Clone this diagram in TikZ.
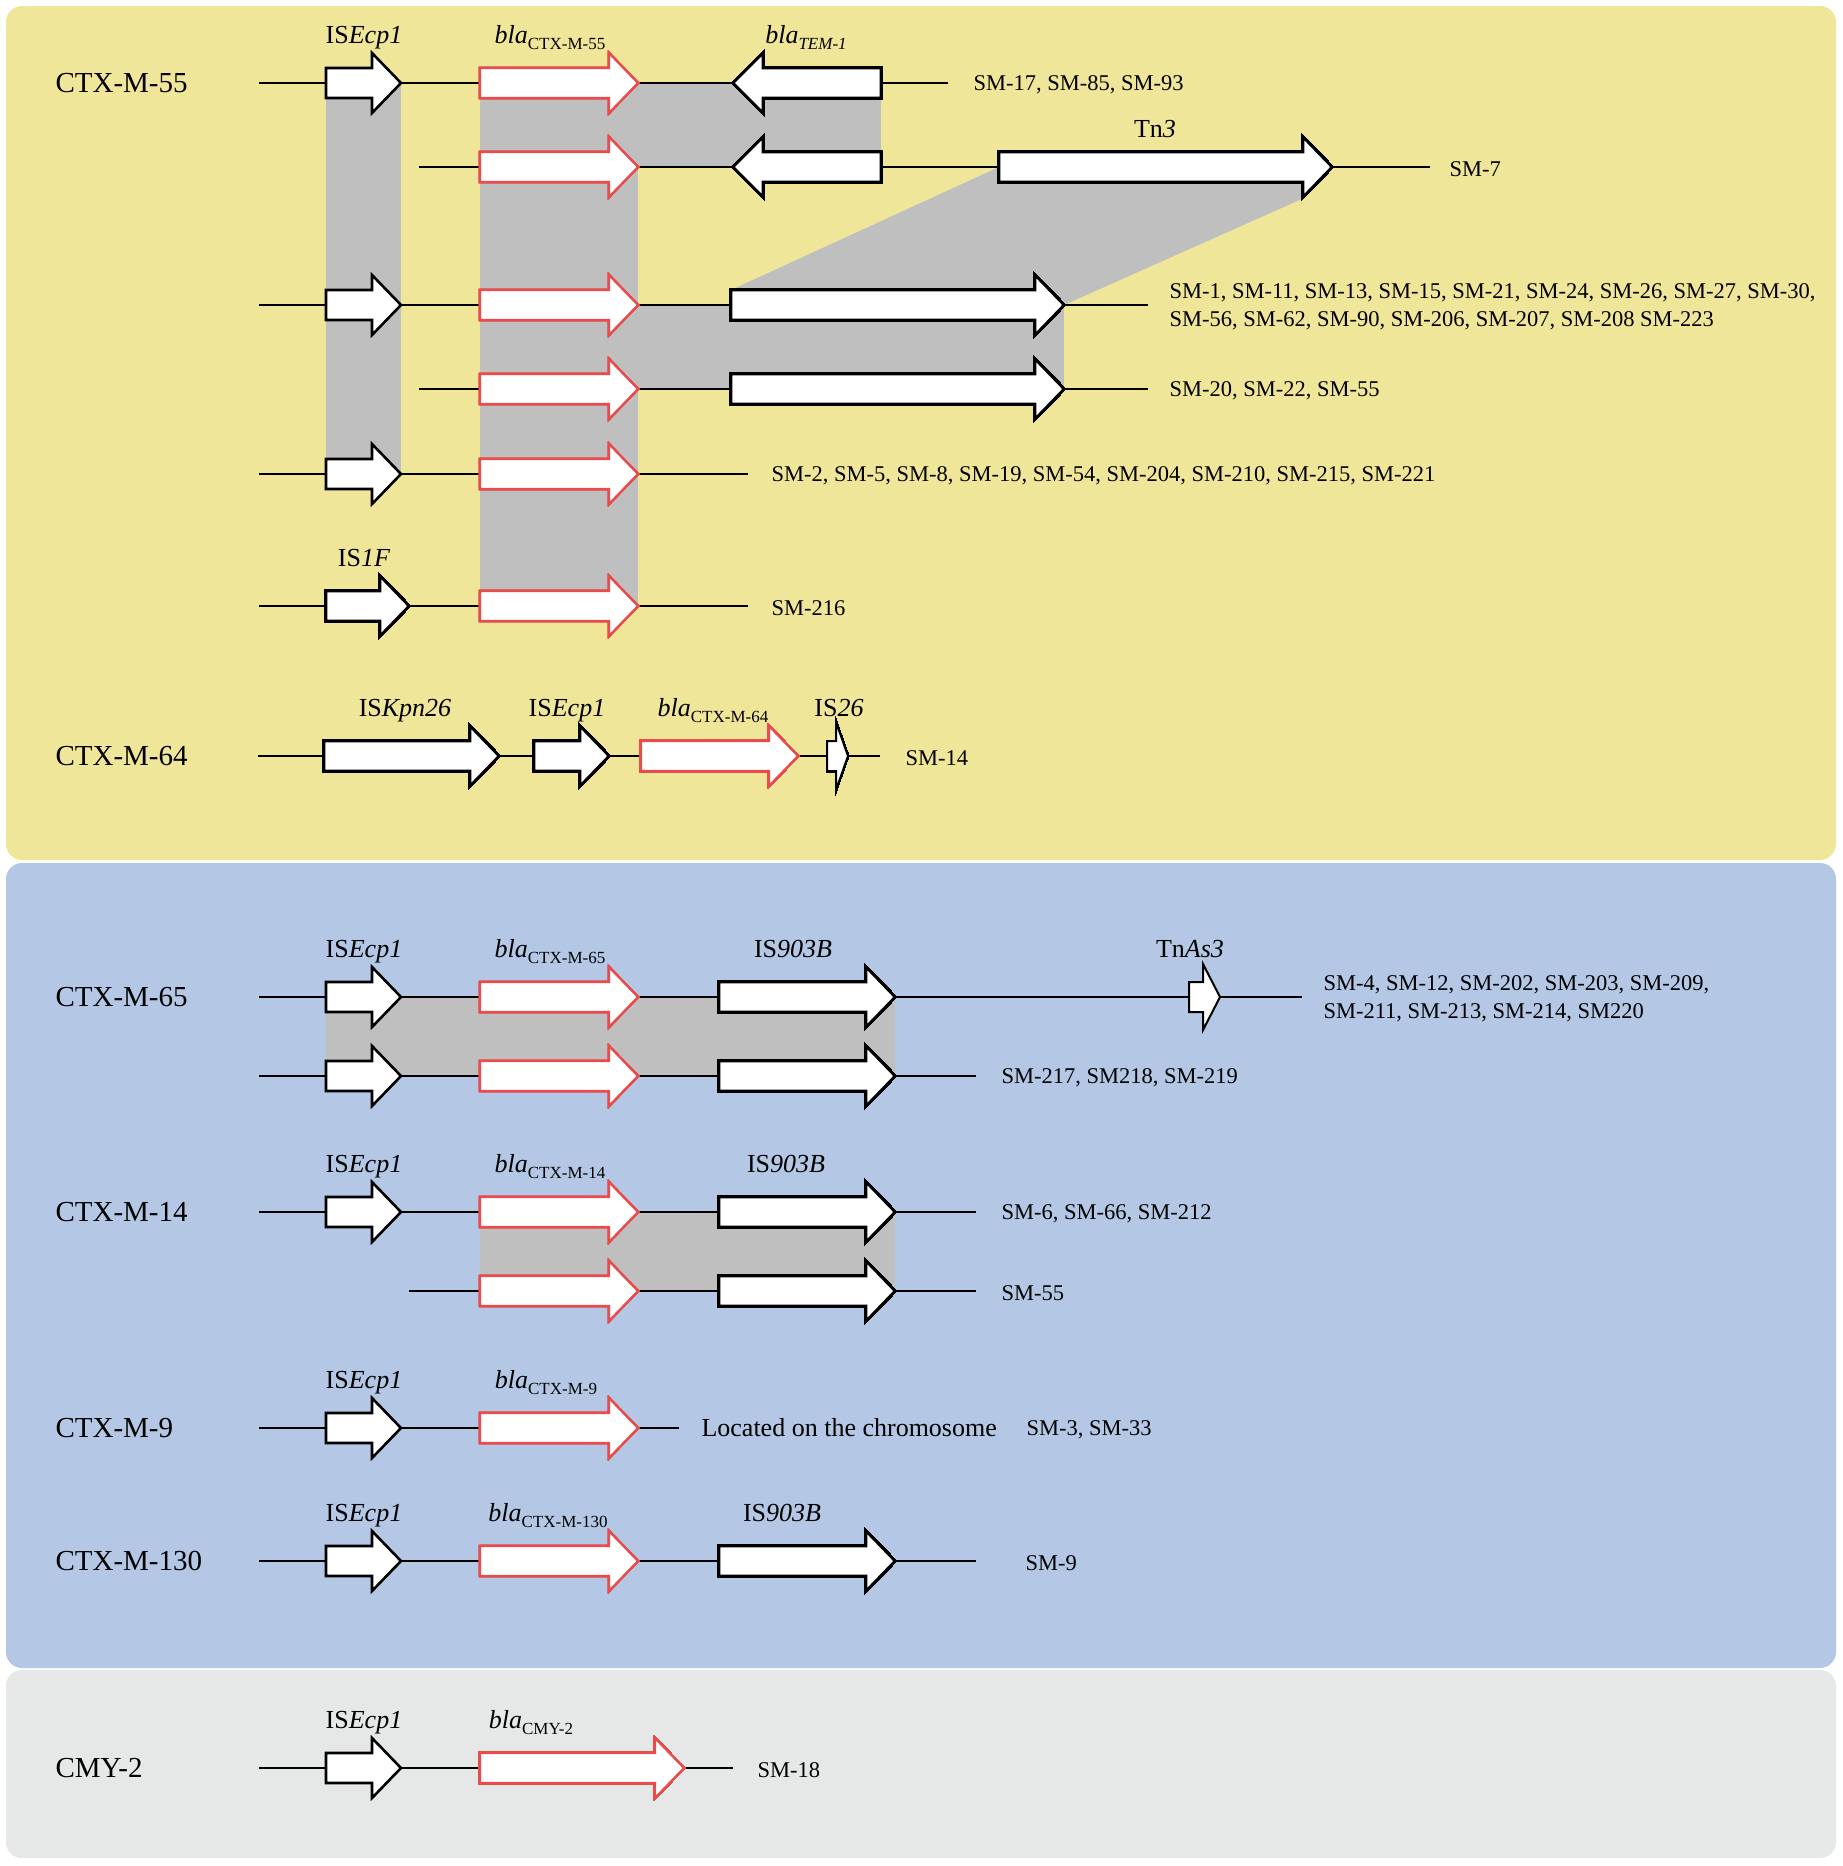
\documentclass[tikz,border=0pt]{standalone}
\usepackage{fontspec}
\setmainfont{Liberation Serif}
\definecolor{panelY}{HTML}{F0E69A}
\definecolor{panelB}{HTML}{B4C8E6}
\definecolor{panelG}{HTML}{E6E7E7}
\definecolor{shade}{HTML}{BFBFBF}
\definecolor{blared}{HTML}{E84C4C}
% forward gene: [style]{start}{tip}{row}
\newcommand{\fwdgene}[4][gene]{\draw[#1] (#2,#4-15)--(#3-29,#4-15)--(#3-29,#4-30)--(#3,#4)--(#3-29,#4+30)--(#3-29,#4+15)--(#2,#4+15)--cycle;}
% reverse gene: {tip}{end}{row}
\newcommand{\revgene}[3]{\draw[gene] (#2,#3-15)--(#1+30,#3-15)--(#1+30,#3-30)--(#1,#3)--(#1+30,#3+30)--(#1+30,#3+15)--(#2,#3+15)--cycle;}
\newcommand{\blaname}[1]{\textit{bla}\raisebox{-6pt}{\fontsize{17}{17}\selectfont #1}}
\begin{document}
\begin{tikzpicture}[x=1pt,y=-1pt,line join=miter,
	gene/.style={draw=black,fill=white,line width=2.6pt},
	blagene/.style={draw=blared,fill=white,line width=2.2pt},
	bb/.style={line width=2pt},
	band/.style={fill=shade},
	lab/.style={font=\fontsize{26}{30}\selectfont,anchor=base},
	iso/.style={font=\fontsize{29}{34}\selectfont,anchor=west},
	sm/.style={font=\fontsize{22.5}{28}\selectfont,anchor=west,align=left,yshift=-2pt}]
	\useasboundingbox (0,0) rectangle (1843,1866);
	% panels
	\fill[panelY,rounded corners=16pt] (6,6) rectangle (1836,860);
	\fill[panelB,rounded corners=16pt] (6,863) rectangle (1836,1668);
	\fill[panelG,rounded corners=16pt] (6,1670) rectangle (1836,1858);
	% shaded homology
	\fill[band] (326,83) rectangle (401,474);
	\fill[band] (480,83) rectangle (638,606);
	\fill[band] (638,83) rectangle (881,167);
	\fill[band] (999,167)--(1332,167)--(1304,198)--(1064,305)--(731,305)--(731,290)--cycle;
	\fill[band] (638,305) rectangle (1064,389);
	\fill[band] (326,997) rectangle (895,1076);
	\fill[band] (480,1212) rectangle (895,1291);
	% backbones
	\foreach \a/\b/\y in {259/948/83,419/1430/167,259/1148/305,419/1148/389,259/748/474,259/748/606,
		258/880/756,259/1302/997,259/976/1076,259/976/1212,409/976/1291,259/679/1428,259/976/1561,259/733/1768}
		\draw[bb] (\a,\y)--(\b,\y);
	% genes
	\foreach \y in {83,305,474,997,1076,1212,1428,1561,1768} \fwdgene{326}{401}{\y}
	\foreach \y in {83,167,305,389,474,606,997,1076,1212,1291,1428,1561} \fwdgene[blagene]{480}{638}{\y}
	\foreach \y in {997,1076,1212,1291,1561} \fwdgene{719}{895}{\y}
	\revgene{733}{881}{83}
	\revgene{733}{881}{167}
	\fwdgene{999}{1332}{167}
	\fwdgene{731}{1064}{305}
	\fwdgene{731}{1064}{389}
	\fwdgene{326}{409}{606}
	\fwdgene{324}{499}{756}
	\fwdgene{534}{609}{756}
	\fwdgene[blagene]{641}{798}{756}
	\fwdgene[blagene]{480}{684}{1768}
	\draw[gene,line width=2pt] (827,741)--(836,741)--(836,722)--(848,756)--(836,790)--(836,771)--(827,771)--cycle;
	\draw[gene,line width=2pt] (1189,982)--(1203,982)--(1203,964)--(1220,997)--(1203,1030)--(1203,1012)--(1189,1012)--cycle;
	% gene names
	\node[lab] (ecpA) at (364,43) {IS\textit{Ecp1}};
	\node[lab] (blaA) at (550,43) {\blaname{CTX-M-55}};
	\node[lab] (tem) at (806,43) {\blaname{\itshape TEM-1}};
	\node[lab] (tn3) at (1155,137) {Tn\textit{3}};
	\node[lab] (is1f) at (364,566) {IS\textit{1F}};
	\node[lab] (kpn) at (405,716) {IS\textit{Kpn26}};
	\node[lab] (ecpB) at (567,716) {IS\textit{Ecp1}};
	\node[lab] (blaB) at (713,716) {\blaname{CTX-M-64}};
	\node[lab] (is26) at (839,716) {IS\textit{26}};
	\node[lab] (ecpC) at (364,957) {IS\textit{Ecp1}};
	\node[lab] (blaC) at (550,957) {\blaname{CTX-M-65}};
	\node[lab] (isC) at (793,957) {IS\textit{903B}};
	\node[lab] (tnas) at (1190,957) {Tn\textit{As3}};
	\node[lab] (ecpD) at (364,1172) {IS\textit{Ecp1}};
	\node[lab] (blaD) at (550,1172) {\blaname{CTX-M-14}};
	\node[lab] (isD) at (786,1172) {IS\textit{903B}};
	\node[lab] (ecpE) at (364,1388) {IS\textit{Ecp1}};
	\node[lab] (blaE) at (546,1388) {\blaname{CTX-M-9}};
	\node[lab] (ecpF) at (364,1521) {IS\textit{Ecp1}};
	\node[lab] (blaF) at (548,1521) {\blaname{CTX-M-130}};
	\node[lab] (isF) at (782,1521) {IS\textit{903B}};
	\node[lab] (ecpG) at (364,1728) {IS\textit{Ecp1}};
	\node[lab] (blaG) at (531,1728) {\blaname{CMY-2}};
	% enzyme names
	\node[iso] (c55) at (52,83) {CTX-M-55};
	\node[iso] (c64) at (52,756) {CTX-M-64};
	\node[iso] (c65) at (52,997) {CTX-M-65};
	\node[iso] (c14) at (52,1212) {CTX-M-14};
	\node[iso] (c9) at (52,1428) {CTX-M-9};
	\node[iso] (c130) at (52,1561) {CTX-M-130};
	\node[iso] (cmy) at (52,1768) {CMY-2};
	% isolates
	\node[sm] (s1) at (970,83) {SM-17, SM-85, SM-93};
	\node[sm] (s2) at (1446,167) {SM-7};
	\node[sm] (s3) at (1166,305) {SM-1, SM-11, SM-13, SM-15, SM-21, SM-24, SM-26, SM-27, SM-30,\\SM-56, SM-62, SM-90, SM-206, SM-207, SM-208 SM-223};
	\node[sm] (s4) at (1166,389) {SM-20, SM-22, SM-55};
	\node[sm] (s5) at (768,474) {SM-2, SM-5, SM-8, SM-19, SM-54, SM-204, SM-210, SM-215, SM-221};
	\node[sm] (s6) at (768,606) {SM-216};
	\node[sm] (s7) at (902,756) {SM-14};
	\node[sm] (s8) at (1320,997) {SM-4, SM-12, SM-202, SM-203, SM-209,\\SM-211, SM-213, SM-214, SM220};
	\node[sm] (s9) at (998,1076) {SM-217, SM218, SM-219};
	\node[sm] (s10) at (998,1212) {SM-6, SM-66, SM-212};
	\node[sm] (s11) at (998,1291) {SM-55};
	\node[font=\fontsize{26}{30}\selectfont,anchor=west] (chr) at (698,1428) {Located on the chromosome};
	\node[sm] (s12) at (1023,1428) {SM-3, SM-33};
	\node[sm] (s13) at (1022,1561) {SM-9};
	\node[sm] (s14) at (754,1768) {SM-18};
\end{tikzpicture}
\end{document}
